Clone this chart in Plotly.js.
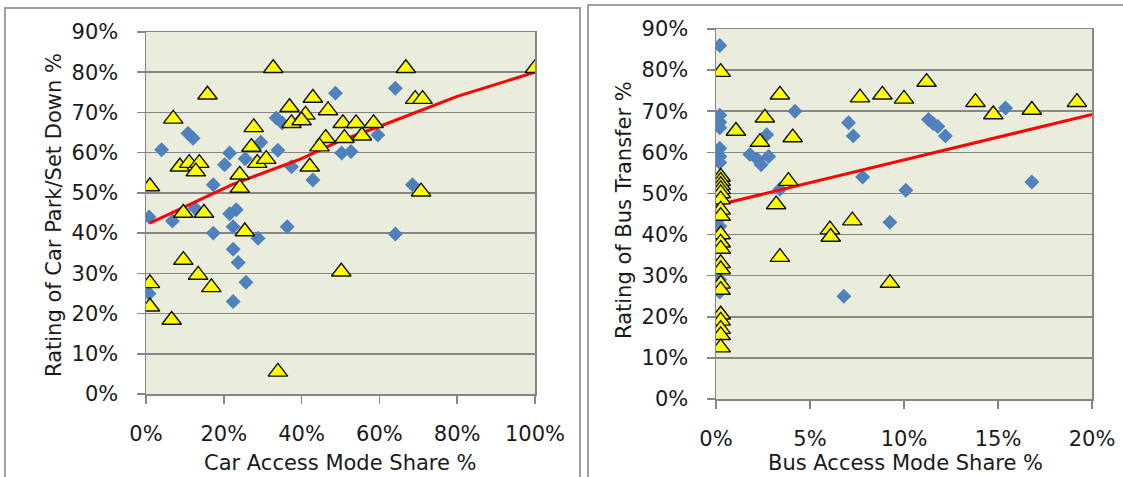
<!DOCTYPE html>
<html>
<head>
<meta charset="utf-8">
<script src="https://cdn.plot.ly/plotly-3.0.1.min.js"></script>
<style>html,body{margin:0;padding:0;background:#fff;}#chart{width:1123px;height:477px;}</style>
</head>
<body>
<div id="chart"></div>
<script>
// ---- Left chart: Car access ----
var carBlueX = [48.7,33.5,35,10.8,12.1,4,21.5,20.2,33.9,29.5,17.3,37.4,42.9,50.3,52.7,25.5,23.2,0.8,6.8,12.6,21.5,22.4,17.3,28.8,36.3,22.4,23.7,25.7,22.4,0.8,64.1,59.6,68.5,64.1];
var carBlueY = [74.8,68.6,67.4,64.8,63.6,60.7,59.9,57,60.6,62.6,52,56.5,53.2,59.9,60.3,58.5,45.8,44,43,46.2,44.8,41.6,40,38.7,41.6,36,32.7,27.8,23,25,76,64.4,52,39.8];
var carYellowX = [32.7,15.8,7,27.7,27.1,28.6,30.9,8.7,11.1,13.7,12.8,1,24.1,24.1,36.9,42.9,46.8,37.4,41,40,50.6,46.2,44.6,42.1,51,9.6,14.9,9.6,13.4,16.8,1,1,6.6,33.9,25.4,50.2,66.8,100,69.2,71.1,54,58.5,55.5,70.7];
var carYellowY = [81,74.4,68.4,66.3,61.4,57.4,58.4,56.5,57.4,57.4,55.3,51.6,54.5,51.2,71.3,73.6,70.5,67.3,69.4,68,67.3,63.6,61.5,56.5,63.6,45,45,33.3,29.6,26.5,27.5,21.7,18.4,5.5,40.4,30.4,81,81,73.3,73.3,67.3,67.3,64.2,50.3];
var carTrendX = [1,22,40,50,60,80,100];
var carTrendY = [42.5,52,58.5,63,66.5,74,80];
var carXTicks = [0,20,40,60,80,100];

// ---- Right chart: Bus access ----
var busBlueX = [0.2,0.2,0.2,0.2,4.2,7.05,7.3,0.2,0.2,0.2,1.8,2.4,2.8,2.2,2.7,7.8,3.4,9.25,6.8,11.3,11.55,11.8,12.2,15.4,10.1,16.8,0.2,0.2,0.2,0.2,0.2,0.2,0.2,0.2,0.2];
var busBlueY = [86,69,67.3,66,70,67.2,64,61,59,57.5,59.5,57,59,58.3,64.3,54,51,43,25,68,67,66.3,64,70.8,50.8,52.8,54,52,50,48,44,42,39,29,26];
var busYellowX = [0.25,3.4,2.6,1.06,4.08,2.34,7.66,8.85,3.85,3.2,6.06,6.1,7.25,3.4,9.25,10,11.2,13.8,14.75,16.8,19.2,
                  0.25,0.25,0.25,0.25,0.25,0.25,0.25,0.25,0.25,0.25,0.25,0.25,0.25,0.25,0.25,0.25,0.25,0.25,0.25,0.25];
var busYellowY = [79.5,74,68.4,65.2,63.6,62.5,73.3,74,53,47.3,41.2,39.4,43.4,34.5,28.2,73,77.1,72.2,69.2,70.3,72.2,
                  54,53,52,51,50,48.5,46,44.5,40,38,36.5,33,31.5,28,26.5,20.5,19,17,15.5,12.5];
var busTrendX = [0.2,20];
var busTrendY = [47.3,69.2];
var busXTicks = [0,5,10,15,20];

var yTicks = [0,10,20,30,40,50,60,70,80,90];

var blue = '#4F81BD';
var yellowMarker = {symbol:'triangle-up', size:17, color:'#FFFF00', line:{color:'#111111', width:1.4}};
var blueMarker = {symbol:'diamond', size:11.5, color:blue, line:{width:0}};

var traces = [
  {x:carBlueX, y:carBlueY, type:'scatter', mode:'markers', marker:blueMarker, xaxis:'x', yaxis:'y', name:'Car rating'},
  {x:carTrendX, y:carTrendY, type:'scatter', mode:'lines', line:{color:'#FF0000', width:3}, xaxis:'x', yaxis:'y', name:'Trend'},
  {x:carYellowX, y:carYellowY, type:'scatter', mode:'markers', marker:yellowMarker, xaxis:'x', yaxis:'y', name:'Car rating 2'},
  {x:busBlueX, y:busBlueY, type:'scatter', mode:'markers', marker:blueMarker, xaxis:'x2', yaxis:'y2', name:'Bus rating'},
  {x:busTrendX, y:busTrendY, type:'scatter', mode:'lines', line:{color:'#FF0000', width:3}, xaxis:'x2', yaxis:'y2', name:'Trend'},
  {x:busYellowX, y:busYellowY, type:'scatter', mode:'markers', marker:yellowMarker, xaxis:'x2', yaxis:'y2', name:'Bus rating 2'}
];

var W = 1123, H = 477;
var tickFont = {family:'DejaVu Sans', size:21, color:'#1a1a1a'};
var gray = '#868686';
function xAxis(dom, range, ticks, anchor){
  return {domain:dom, range:range, tickvals:ticks, ticktext:ticks.map(function(t){return t+'%';}),
    ticks:'outside', ticklen:8, tickwidth:1.5, tickcolor:gray, showline:true, linecolor:gray, linewidth:1.5,
    mirror:true, showgrid:false, zeroline:false, tickfont:tickFont, anchor:anchor, fixedrange:true, ticklabelstandoff:12};
}
function yAxis(dom, anchor){
  return {domain:dom, range:[0,90], tickvals:yTicks, ticktext:yTicks.map(function(t){return t+'%';}),
    ticks:'outside', ticklen:8, tickwidth:1.5, tickcolor:gray, showline:true, linecolor:gray, linewidth:1.5,
    mirror:true, showgrid:true, gridcolor:gray, gridwidth:1.5, zeroline:false, tickfont:tickFont, anchor:anchor, fixedrange:true, ticklabelstandoff:14};
}

var titleFont = {family:'DejaVu Sans', size:21, color:'#1a1a1a'};
var layout = {
  width:W, height:H, margin:{l:0,r:0,t:0,b:0,pad:0},
  paper_bgcolor:'#ffffff', plot_bgcolor:'#EAEDDC', showlegend:false,
  xaxis: xAxis([146/W, 535/W], [0,100], carXTicks, 'y'),
  yaxis: yAxis([1-394/H, 1-32/H], 'x'),
  xaxis2: xAxis([716/W, 1092/W], [0,20], busXTicks, 'y2'),
  yaxis2: yAxis([1-399/H, 1-29/H], 'x2'),
  shapes:[
    {type:'rect', xref:'paper', yref:'paper', x0:5/W, x1:580/W, y0:-0.1, y1:1-8/H, line:{color:'#a0a0a0', width:2}, layer:'below'},
    {type:'rect', xref:'paper', yref:'paper', x0:588/W, x1:1135/W, y0:-0.1, y1:1-5/H, line:{color:'#a0a0a0', width:2}, layer:'below'}
  ],
  annotations:[
    {text:'Car Access Mode Share %', xref:'paper', yref:'paper', x:340/W, y:1-463/H, xanchor:'center', yanchor:'middle', showarrow:false, font:titleFont},
    {text:'Rating of Car Park/Set Down %', xref:'paper', yref:'paper', x:54/W, y:1-215/H, xanchor:'center', yanchor:'middle', textangle:-90, showarrow:false, font:titleFont},
    {text:'Bus Access Mode Share %', xref:'paper', yref:'paper', x:905/W, y:1-463/H, xanchor:'center', yanchor:'middle', showarrow:false, font:titleFont},
    {text:'Rating of Bus Transfer %', xref:'paper', yref:'paper', x:624/W, y:1-210/H, xanchor:'center', yanchor:'middle', textangle:-90, showarrow:false, font:titleFont}
  ]
};

Plotly.newPlot('chart', traces, layout, {staticPlot:true, displayModeBar:false});
</script>
</body>
</html>
